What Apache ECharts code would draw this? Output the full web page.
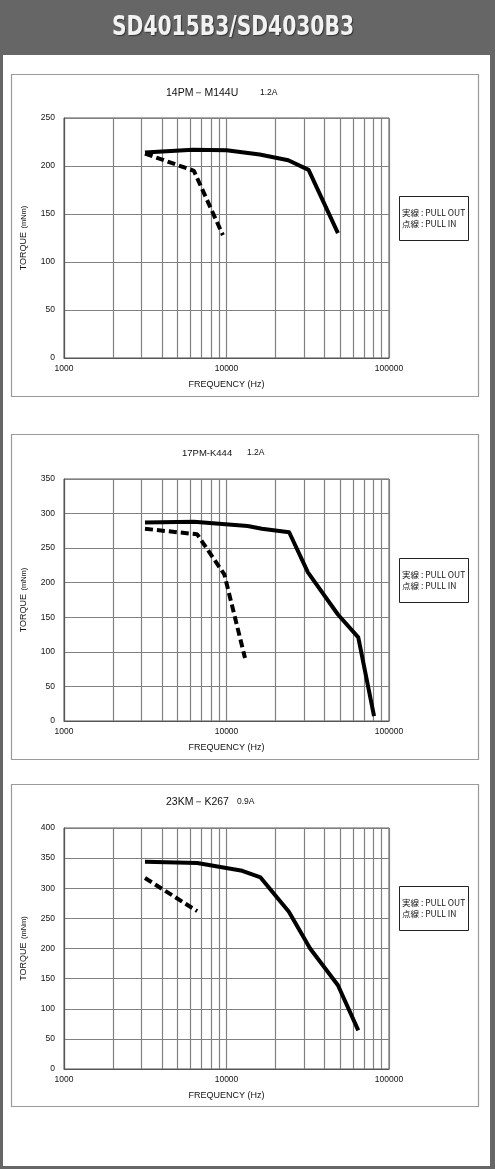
<!DOCTYPE html>
<html>
<head>
<meta charset="utf-8">
<script src="https://cdn.jsdelivr.net/npm/echarts@6/dist/echarts.min.js"></script>
<style>
html,body{margin:0;padding:0;background:#666666;}
#bg{position:absolute;left:3px;top:55px;width:487px;height:1111px;background:#ffffff;}
#main{position:absolute;left:0;top:0;width:495px;height:1169px;}
</style>
</head>
<body>
<div id="bg"></div>
<div id="main"></div>
<script>
// ---- data ----
const headerTitle = 'SD4015B3/SD4030B3';
const motorNames = ['14PM－M144U', '17PM-K444', '23KM－K267'];
const currents = ['1.2A', '1.2A', '0.9A'];
const yMaxes = [250, 350, 400];
const xTickValues = [1000, 10000, 100000];
const minorFreqs = [2000,3000,4000,5000,6000,7000,8000,9000,20000,30000,40000,50000,60000,70000,80000,90000];

// Panel 1: 14PM-M144U
const pullOutFreq1 = [3150, 6200, 10000, 16000, 24000, 32000, 48500];
const pullOutTorque1 = [214, 217, 216.5, 212, 206, 196, 130];
const pullInFreq1 = [3150, 6300, 9500];
const pullInTorque1 = [213, 195, 128];

// Panel 2: 17PM-K444
const pullOutFreq2 = [3150, 6300, 13500, 16500, 24300, 31700, 48500, 64700, 80900];
const pullOutTorque2 = [287, 288, 282, 278, 273, 215, 154, 121, 7];
const pullInFreq2 = [3150, 6600, 9700, 13000];
const pullInTorque2 = [278, 270, 212, 91];

// Panel 3: 23KM-K267
const pullOutFreq3 = [3150, 6600, 12500, 16200, 24200, 32700, 48500, 64700];
const pullOutTorque3 = [344, 342, 329, 318, 261, 200, 139, 64];
const pullInFreq3 = [3150, 6600];
const pullInTorque3 = [317, 262];

const legendLines = ['実線 : PULL OUT', '点線 : PULL IN'];
const xAxisName = 'FREQUENCY (Hz)';

// ---- build ----
const pairs = (xs, ys) => xs.map((x, i) => [x, ys[i]]);
const panels = [
  {out: pairs(pullOutFreq1, pullOutTorque1), inn: pairs(pullInFreq1, pullInTorque1)},
  {out: pairs(pullOutFreq2, pullOutTorque2), inn: pairs(pullInFreq2, pullInTorque2)},
  {out: pairs(pullOutFreq3, pullOutTorque3), inn: pairs(pullInFreq3, pullInTorque3)}
];

const gridTops = [118, 479, 828];
const gridHeights = [240, 242, 241];
const boxTops = [74, 434, 784];
const boxHeights = [322, 325, 322];
const titleY = [93, 453, 802];
const titleX = [[166, 260], [182, 247], [166, 237]];
const titleSize = [10.5, 9.5, 10.5];
const legendTops = [196, 558, 886];

const FONT = '"Liberation Sans", Arial, sans-serif';
const GRID_COLOR = '#808080';

const grids = [], xAxes = [], yAxes = [], series = [], graphics = [];

// header text
graphics.push({
  type: 'group', x: 233, y: 28, scaleX: 0.75, z: 10,
  children: [{
    type: 'text', x: 0, y: 0,
    style: {text: headerTitle, fill: '#f2f2f2', font: 'bold 27px "DejaVu Sans", sans-serif',
      textAlign: 'center', textVerticalAlign: 'middle',
      textShadowColor: 'rgba(0,0,0,0.5)', textShadowBlur: 1, textShadowOffsetX: 1, textShadowOffsetY: 1}
  }]
});

for (let i = 0; i < 3; i++) {
  grids.push({left: 64, width: 325, top: gridTops[i], height: gridHeights[i],
    show: true, borderColor: '#555', borderWidth: 1, backgroundColor: 'transparent'});
  xAxes.push({
    type: 'log', logBase: 10, min: xTickValues[0], max: xTickValues[2], gridIndex: i,
    name: xAxisName, nameLocation: 'middle', nameGap: 22,
    nameTextStyle: {fontFamily: FONT, fontSize: 9, color: '#111'},
    axisLine: {show: true, lineStyle: {color: '#555'}},
    axisTick: {show: false},
    axisLabel: {fontFamily: FONT, fontSize: 8.5, color: '#111', margin: 6, formatter: v => String(Math.round(v))},
    splitLine: {show: true, lineStyle: {color: GRID_COLOR, width: 1.2}}
  });
  yAxes.push({
    type: 'value', min: 0, max: yMaxes[i], interval: 50, gridIndex: i,
    name: '{a|TORQUE} {b|(mNm)}', nameLocation: 'middle', nameGap: 28,
    nameTextStyle: {color: '#111', rich: {a: {fontFamily: FONT, fontSize: 9, color: '#111'}, b: {fontFamily: FONT, fontSize: 7.5, color: '#111'}}},
    axisLine: {show: true, lineStyle: {color: '#555'}},
    axisTick: {show: false},
    axisLabel: {fontFamily: FONT, fontSize: 8.5, color: '#111', margin: 9},
    splitLine: {show: true, lineStyle: {color: GRID_COLOR, width: 1.2}}
  });
  // minor log grid lines
  series.push({
    type: 'line', xAxisIndex: i, yAxisIndex: i, data: [], silent: true, z: 1,
    markLine: {
      silent: true, symbol: 'none', animation: false,
      label: {show: false},
      lineStyle: {color: GRID_COLOR, width: 1.2, type: 'solid'},
      data: minorFreqs.map(f => ({xAxis: f}))
    }
  });
  series.push({
    name: 'PULL OUT', type: 'line', xAxisIndex: i, yAxisIndex: i, data: panels[i].out,
    showSymbol: false, symbol: 'none', animation: false, z: 5,
    lineStyle: {color: '#000', width: 4, type: 'solid', join: 'round'}
  });
  series.push({
    name: 'PULL IN', type: 'line', xAxisIndex: i, yAxisIndex: i, data: panels[i].inn,
    showSymbol: false, symbol: 'none', animation: false, z: 5,
    lineStyle: {color: '#000', width: 4, type: [8, 4]}
  });
  // panel frame
  graphics.push({type: 'rect', shape: {x: 11.5, y: boxTops[i] + 0.5, width: 467, height: boxHeights[i]},
    style: {fill: null, stroke: '#9a9a9a', lineWidth: 1.2}, z: 0});
  // panel title
  graphics.push({type: 'text', x: titleX[i][0], y: titleY[i],
    style: {text: motorNames[i], font: titleSize[i] + 'px ' + FONT, fill: '#111', textVerticalAlign: 'middle'}});
  graphics.push({type: 'text', x: titleX[i][1], y: titleY[i],
    style: {text: currents[i], font: '8.5px ' + FONT, fill: '#111', textVerticalAlign: 'middle'}});
  // legend box
  graphics.push({type: 'rect', shape: {x: 399.5, y: legendTops[i] + 0.5, width: 69, height: 44},
    style: {fill: '#fff', stroke: '#222', lineWidth: 1}});
  graphics.push({type: 'text', x: 402, y: legendTops[i] + 17,
    style: {text: legendLines[0], font: '8.5px "Noto Sans CJK JP", ' + FONT, fill: '#111', textVerticalAlign: 'middle'}});
  graphics.push({type: 'text', x: 402, y: legendTops[i] + 28,
    style: {text: legendLines[1], font: '8.5px "Noto Sans CJK JP", ' + FONT, fill: '#111', textVerticalAlign: 'middle'}});
}

const chart = echarts.init(document.getElementById('main'), null, {renderer: 'canvas'});
chart.setOption({
  animation: false,
  backgroundColor: 'transparent',
  grid: grids, xAxis: xAxes, yAxis: yAxes, series: series, graphic: graphics
});
</script>
</body>
</html>
